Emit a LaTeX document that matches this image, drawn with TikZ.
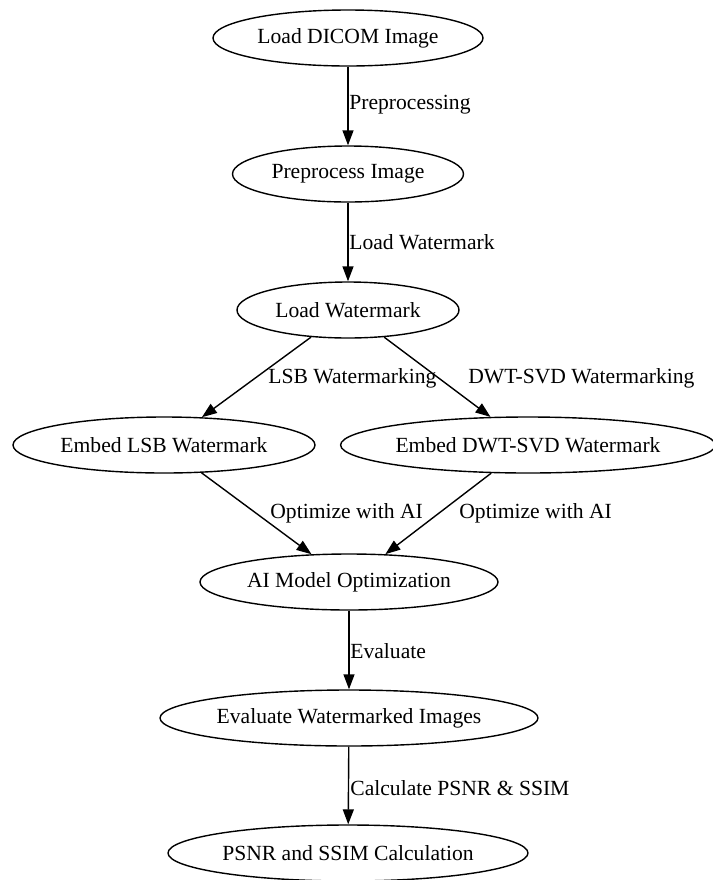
\documentclass[tikz,border=0pt]{standalone}
\usepackage{fontspec}
\setmainfont{Liberation Serif}
\usepackage{tikz}
\usetikzlibrary{shapes,arrows.meta,positioning}

\tikzset{
  proc/.style={draw, ellipse, line width=0.7pt, minimum height=28pt, inner sep=0pt},
  flow/.style={-{Triangle[length=7.5pt,width=5.5pt]}, line width=0.7pt},
  lbl/.style={anchor=west, inner sep=0pt}
}

\begin{document}
\begin{tikzpicture}[
  x=0.5pt, y=-0.5pt,
  font=\fontsize{10.8}{13}\selectfont
]

  \useasboundingbox (0,0) rectangle (713,880);

  % Main column
  \node (dicom) at (348,38) [proc, minimum width=135pt] {Load DICOM Image};
  \node (prep) at (348,174) [proc, minimum width=115.5pt] {Preprocess Image};
  \node (wmark) at (348,310) [proc, minimum width=111pt] {Load Watermark};

  % Two embedding branches
  \node (lsb) at (164,445) [proc, minimum width=151pt] {Embed LSB Watermark};
  \node (dwt) at (528,445) [proc, minimum width=181pt] {Embed DWT-SVD Watermark};

  % Optimization and evaluation
  \node (ai) at (349,582) [proc, minimum width=149pt] {AI Model Optimization};
  \node (eval) at (349,718) [proc, minimum width=189pt] {Evaluate Watermarked Images};
  \node (psnr) at (348,853) [proc, minimum width=180pt] {PSNR and SSIM Calculation};

  % Connectors
  \draw [flow] (dicom) -- (prep);
  \draw [flow] (prep) -- (wmark);
  \draw [flow] (wmark) -- (lsb);
  \draw [flow] (wmark) -- (dwt);
  \draw [flow] (lsb) -- (ai);
  \draw [flow] (dwt) -- (ai);
  \draw [flow] (ai) -- (eval);
  \draw [flow] (eval) -- (psnr);

  % Edge labels
  \node (lprep) at (349,105) [lbl] {Preprocessing};
  \node (lwmark) at (349,242) [lbl] {Load Watermark};
  \node (llsb) at (268,378) [lbl] {LSB Watermarking};
  \node (ldwt) at (468,378) [lbl] {DWT-SVD Watermarking};
  \node (laione) at (270,513) [lbl] {Optimize with AI};
  \node (laitwo) at (459,513) [lbl] {Optimize with AI};
  \node (leval) at (350,651) [lbl] {Evaluate};
  \node (lpsnr) at (350,788) [lbl] {Calculate PSNR \& SSIM};

\end{tikzpicture}
\end{document}
